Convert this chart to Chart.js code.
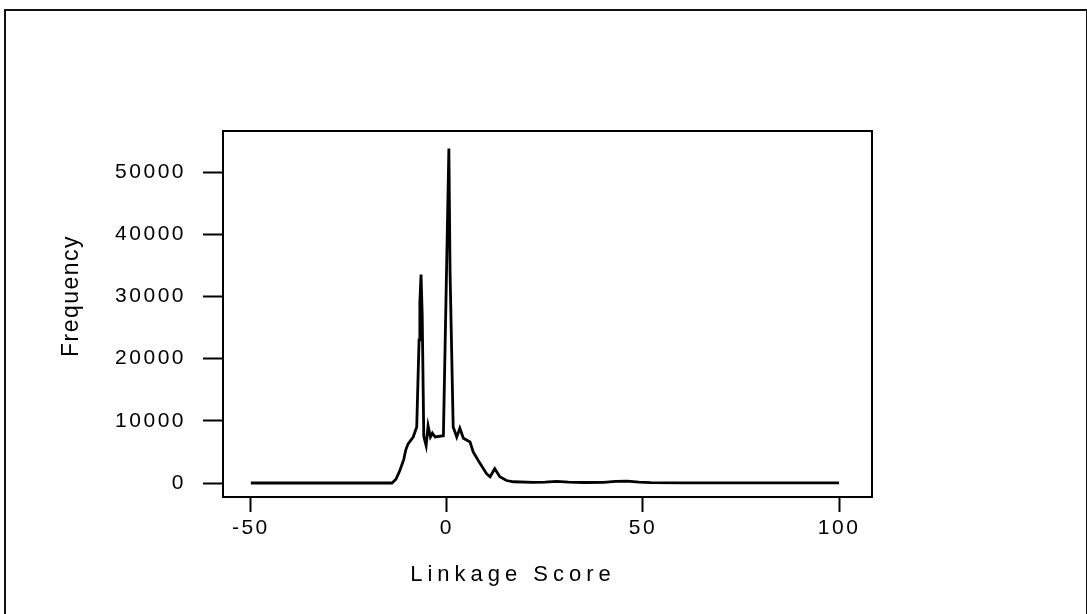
<!DOCTYPE html>
<html>
<head>
<meta charset="utf-8">
<script src="https://cdn.jsdelivr.net/npm/chart.js@4.4.0/dist/chart.umd.min.js"></script>
<style>
  html, body { margin: 0; padding: 0; background: #fff; overflow: hidden; }
  #wrap { position: relative; width: 1087px; height: 614px; }
  #pageFrame { position: absolute; left: 4px; top: 9px; width: 1080px; height: 620px;
               border: 2px solid #111; border-bottom: none; }
  #chart { position: absolute; left: 0; top: 0; }
</style>
</head>
<body>
<div id="wrap">
  <div id="pageFrame"></div>
  <canvas id="chart" width="1087" height="614"></canvas>
</div>
<script>
// Datos (Linkage Score vs Frequency)
const scores = [-50, -40, -30, -20, -15, -14, -13, -12, -11, -10.5, -9.9, -8.6, -7.7, -7.1, -6.9, -6.6, -6.3,
  -5.9, -5.3, -4.8, -4.2, -3.7, -3.0, -0.9, 0.5, 0.8, 1.6, 2.5, 3.3, 4.2, 5.9, 6.7, 8.4, 10.1, 11, 12.2, 13.5,
  15.2, 17, 22, 25, 28, 31, 35, 40, 43, 46, 49, 52, 60, 70, 80, 90, 100];
const frequency = [0, 0, 0, 0, 0, 0, 600, 2000, 3800, 5300, 6300, 7400, 9000, 23000, 29000, 33500, 27000,
  7500, 6000, 9200, 7400, 8000, 7400, 7600, 53800, 34000, 9000, 7400, 8800, 7200, 6600, 5000, 3200, 1500, 1000, 2300, 1000,
  400, 200, 100, 150, 250, 150, 80, 100, 250, 300, 150, 50, 30, 30, 20, 20, 20];

const xTicks = [-50, 0, 50, 100];
const yTicks = [0, 10000, 20000, 30000, 40000, 50000];

const FONT = '"Liberation Sans", Arial, Helvetica, sans-serif';

// Plugin: espaciado de letras, marco del grafico y titulos de ejes
const framePlugin = {
  id: 'framePlugin',
  beforeUpdate(chart) { chart.ctx.letterSpacing = '2.5px'; },
  beforeDraw(chart) { chart.ctx.letterSpacing = '2.5px'; },
  afterDraw(chart) {
    const ctx = chart.ctx;
    const a = chart.chartArea;
    ctx.save();
    ctx.strokeStyle = '#000';
    ctx.lineWidth = 2;
    ctx.strokeRect(a.left, a.top, a.right - a.left, a.bottom - a.top);

    ctx.fillStyle = '#000';
    ctx.font = '22px ' + FONT;
    ctx.textAlign = 'center';
    ctx.textBaseline = 'middle';
    ctx.letterSpacing = '5px';
    ctx.fillText('Linkage Score', 513, 575);

    ctx.font = '23px ' + FONT;
    ctx.letterSpacing = '1.5px';
    ctx.translate(72, 296);
    ctx.rotate(-Math.PI / 2);
    ctx.fillText('Frequency', 0, 0);
    ctx.restore();
  }
};

new Chart(document.getElementById('chart').getContext('2d'), {
  type: 'line',
  data: {
    datasets: [{
      data: scores.map((s, i) => ({ x: s, y: frequency[i] })),
      borderColor: '#000',
      borderWidth: 2.8,
      pointRadius: 0,
      tension: 0,
      fill: false
    }]
  },
  options: {
    responsive: false,
    animation: false,
    events: [],
    layout: { padding: { left: 0, top: 131, right: 215, bottom: 0 } },
    plugins: { legend: { display: false }, tooltip: { enabled: false } },
    scales: {
      x: {
        type: 'linear',
        min: -57.1,
        max: 108.4,
        afterBuildTicks: scale => { scale.ticks = xTicks.map(v => ({ value: v })); },
        afterFit: scale => { scale.height = 117; },
        border: { display: false },
        grid: { drawOnChartArea: false, drawTicks: true, tickLength: 15, tickWidth: 2, tickColor: '#000' },
        ticks: { color: '#000', font: { size: 21, family: FONT }, padding: 4, maxRotation: 0,
                 callback: v => String(v) }
      },
      y: {
        type: 'linear',
        min: -2250,
        max: 56600,
        afterBuildTicks: scale => { scale.ticks = yTicks.map(v => ({ value: v })); },
        afterFit: scale => { scale.width = 223; },
        border: { display: false },
        grid: { drawOnChartArea: false, drawTicks: true, tickLength: 20, tickWidth: 2, tickColor: '#000' },
        ticks: { color: '#000', font: { size: 21, family: FONT }, padding: 17,
                 callback: v => String(v) }
      }
    }
  },
  plugins: [framePlugin]
});
</script>
</body>
</html>
